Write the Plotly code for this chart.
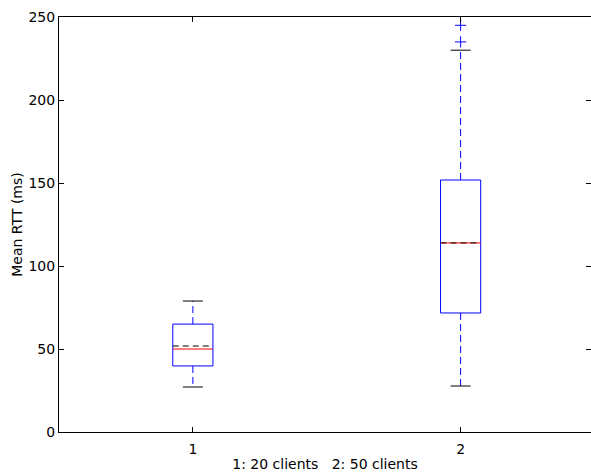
import plotly.graph_objects as go

# Data
positions = [1, 2]
q1 = [39.8, 71.7]
median = [50.0, 113.9]
q3 = [65.0, 151.8]
mean = [51.8, 113.9]
lower_whisker = [27.1, 27.7]
upper_whisker = [78.9, 230.0]
fliers = [[], [235.0, 245.0]]
tick_labels = ["1", "2"]

box_width = 0.15
blue = "#0000ff"

fig = go.Figure()
for i, p in enumerate(positions):
    hw = box_width / 2
    cw = box_width / 4
    # whiskers (dashed)
    fig.add_trace(go.Scatter(x=[p, p], y=[q3[i], upper_whisker[i]], mode="lines",
                             line=dict(color=blue, width=1, dash="7px,4px"), hoverinfo="skip"))
    fig.add_trace(go.Scatter(x=[p, p], y=[q1[i], lower_whisker[i]], mode="lines",
                             line=dict(color=blue, width=1, dash="7px,4px"), hoverinfo="skip"))
    # caps
    for v in (upper_whisker[i], lower_whisker[i]):
        fig.add_trace(go.Scatter(x=[p - cw, p + cw], y=[v, v], mode="lines",
                                 line=dict(color="black", width=1), hoverinfo="skip"))
    # box
    fig.add_trace(go.Scatter(x=[p - hw, p + hw, p + hw, p - hw, p - hw],
                             y=[q1[i], q1[i], q3[i], q3[i], q1[i]], mode="lines",
                             line=dict(color=blue, width=1), hoverinfo="skip"))
    # median
    fig.add_trace(go.Scatter(x=[p - hw, p + hw], y=[median[i], median[i]], mode="lines",
                             line=dict(color="red", width=1), hoverinfo="skip"))
    # mean (dashed line)
    fig.add_trace(go.Scatter(x=[p - hw, p + hw], y=[mean[i], mean[i]], mode="lines",
                             line=dict(color="black", width=1, dash="6px,4px"), hoverinfo="skip"))
    # fliers
    if fliers[i]:
        fig.add_trace(go.Scatter(x=[p] * len(fliers[i]), y=fliers[i], mode="markers",
                                 marker=dict(symbol="cross-thin", size=8,
                                             line=dict(color=blue, width=1)),
                                 hoverinfo="skip"))

font = dict(family="DejaVu Sans", size=14, color="black")
fig.update_layout(
    width=591, height=475,
    margin=dict(l=59, r=0, t=17, b=43),
    paper_bgcolor="white", plot_bgcolor="white",
    showlegend=False, font=font,
    xaxis=dict(range=[0.5, 2.487], tickvals=positions, ticktext=tick_labels,
               ticks="inside", ticklen=5, tickcolor="black", mirror="ticks",
               showline=True, linecolor="black", linewidth=1,
               showgrid=False, zeroline=False, automargin=False,
               tickfont=dict(size=14), ticklabelstandoff=4,
               title=dict(text="1: 20 clients   2: 50 clients", standoff=3,
                          font=dict(size=14))),
    yaxis=dict(range=[0, 250], dtick=50, ticks="inside", ticklen=5, tickcolor="black",
               mirror="ticks", showline=True, linecolor="black", linewidth=1,
               showgrid=False, zeroline=False, automargin=False,
               tickfont=dict(size=14),
               title=dict(text="Mean RTT (ms)", standoff=2, font=dict(size=14))),
)

fig.write_html("out.html", config={"displayModeBar": False})

# remove the default page margin so the figure sits at the window's top-left corner
with open("out.html", encoding="utf-8") as f:
    html = f.read()
html = html.replace("<head>", "<head><style>html,body{margin:0;padding:0;overflow:hidden;}</style>", 1)
with open("out.html", "w", encoding="utf-8") as f:
    f.write(html)
